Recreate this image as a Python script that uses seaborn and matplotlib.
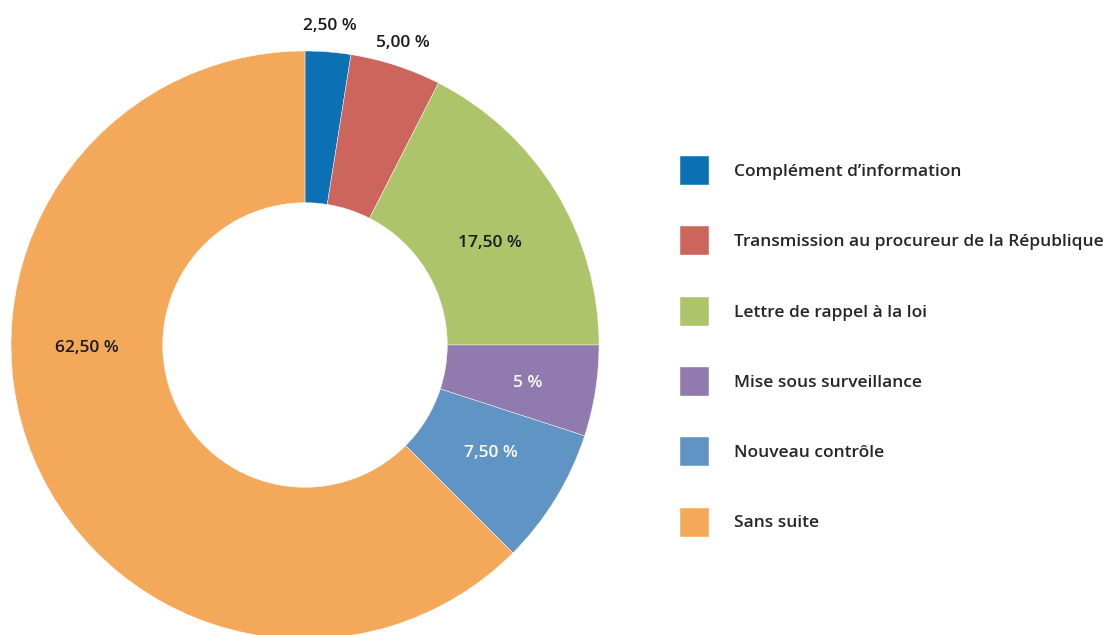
import matplotlib
matplotlib.use("Agg")
import matplotlib.pyplot as plt
import seaborn as sns
import numpy as np

# données
categories = [
    "Complément d\u2019information",
    "Transmission au procureur de la République",
    "Lettre de rappel à la loi",
    "Mise sous surveillance",
    "Nouveau contrôle",
    "Sans suite",
]
valeurs = [2.5, 5.0, 17.5, 5.0, 7.5, 62.5]
etiquettes = ["2,50 %", "5,00 %", "17,50 %", "5 %", "7,50 %", "62,50 %"]

couleurs = ["#0b71b4", "#cc655b", "#aec46b", "#917aae", "#6094c4", "#f4a85a"]
couleurs_texte = ["#1a1a1a", "#1a1a1a", "#1a1a1a", "white", "white", "#1a1a1a"]
# position des étiquettes (rayon relatif, décalage angulaire en degrés)
rayons_etiq = [1.09, 1.08, 0.718, 0.770, 0.732, 0.741]
decalage_etiq = [0, 0, -2.6, -0.7, 1.4, -21.7]

sns.set_theme(style="white")
plt.rcParams["font.family"] = ["Open Sans", "DejaVu Sans"]

W, H = 1104, 635
fig = plt.figure(figsize=(W / 100, H / 100), dpi=100)

cx, cy, R = 305, H - 345, 294
ax = fig.add_axes([(cx - R) / W, (cy - R) / H, 2 * R / W, 2 * R / H])

wedges, _ = ax.pie(
    valeurs, colors=couleurs, startangle=90, counterclock=False,
    radius=1, wedgeprops=dict(width=0.516, edgecolor="white", linewidth=0.3),
)
ax.set_xlim(-1, 1)
ax.set_ylim(-1, 1)
ax.set_aspect("equal")
ax.axis("off")

fs = 12.5
for w, txt, r, d, c in zip(wedges, etiquettes, rayons_etiq, decalage_etiq, couleurs_texte):
    ang = np.deg2rad((w.theta1 + w.theta2) / 2 + d)
    ax.text(r * np.cos(ang), r * np.sin(ang), txt, ha="center", va="center",
            fontsize=fs, fontweight="semibold", color=c, clip_on=False)

px = fs * 100 / 72
# hauteur réelle du carré = fs * (0.65 * hh + 0.245)
hh = (29 / px - 0.245) / 0.65
fig.legend(
    wedges, categories, loc="upper left",
    bbox_to_anchor=(680 / W, (H - 156) / H), bbox_transform=fig.transFigure,
    frameon=False, borderpad=0, borderaxespad=0,
    handlelength=29 / px, handleheight=hh, handletextpad=25 / px,
    labelspacing=41.3 / px, prop=dict(size=fs, weight="semibold"),
)

fig.savefig("out.png", dpi=100, facecolor="white")
